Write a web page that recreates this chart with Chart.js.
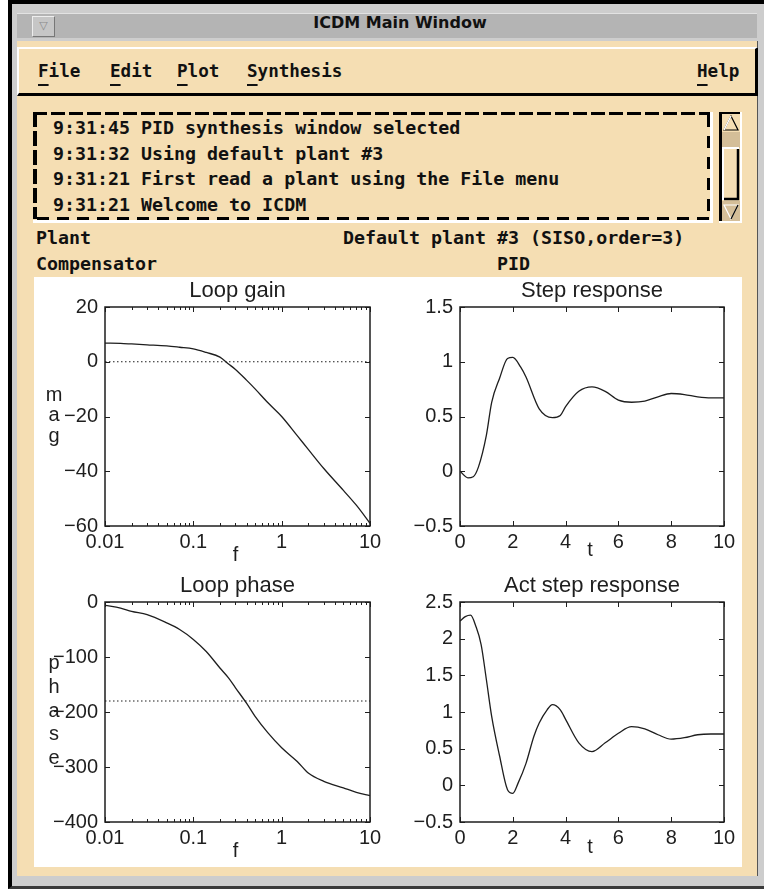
<!DOCTYPE html>
<html>
<head>
<meta charset="utf-8">
<title>ICDM Main Window</title>
<script src="https://cdn.jsdelivr.net/npm/chart.js@4.4.1/dist/chart.umd.min.js"></script>
<style>
  body { margin: 0; width: 764px; height: 889px; background: #fff; position: relative; overflow: hidden; }
  .abs { position: absolute; box-sizing: border-box; }
  #frame { left: 8px; top: 0; width: 756px; height: 889px; background: #cdcdcd; border-top: 4px solid #000; border-left: 4px solid #000; border-bottom: 3px solid #3a3a3a; }
  #titlebar { left: 17px; top: 13px; width: 740px; height: 25px; background: #b4b4b4; border-top: 1px solid #e2e2e2; }
  #titlebtn { left: 32px; top: 16px; width: 23px; height: 21px; background: #c6c6c6; border: 1px solid; border-color: #eee #777 #777 #eee; color: #8a8a8a; font: 11px "DejaVu Sans", sans-serif; text-align: center; line-height: 18px; }
  #titletext { left: 250px; top: 13px; width: 300px; height: 25px; line-height: 25px; text-align: center; font: bold 16px "DejaVu Sans", sans-serif; color: #111; }
  #content { left: 17px; top: 41px; width: 741px; height: 835px; background: #f5deb3; border-right: 1px solid #555; }
  #menubar { left: 17px; top: 47px; width: 741px; height: 49px; background: #f5deb3; border-top: 2px solid #fff; border-left: 2px solid #fff; border-bottom: 3px solid #000; border-right: 3px solid #000; }
  .mono { font-family: "DejaVu Sans Mono", monospace; font-weight: bold; font-size: 18.3px; color: #111; white-space: pre; }
  .menu { top: 60px; line-height: 22px; font-size: 17.6px; }
  .u { text-decoration: underline; text-decoration-thickness: 2px; text-underline-offset: 7px; }
  #msgbox { left: 33px; top: 112px; width: 681px; height: 111px; }
  .dash { position: absolute; }
  #messages { left: 53px; top: 115px; line-height: 25.7px; }
  .label { line-height: 22px; }
  #panel { left: 34px; top: 277px; width: 708px; height: 590px; background: #fff; }
  canvas { position: absolute; }
</style>
</head>
<body>
<div id="frame" class="abs"></div>
<div id="titlebar" class="abs"></div>
<div id="titlebtn" class="abs">&#9661;</div>
<div id="titletext" class="abs">ICDM Main Window</div>
<div id="content" class="abs"></div>
<div id="menubar" class="abs"></div>
<div class="abs mono menu" style="left:38px"><span class="u">F</span>ile</div>
<div class="abs mono menu" style="left:110px"><span class="u">E</span>dit</div>
<div class="abs mono menu" style="left:177px"><span class="u">P</span>lot</div>
<div class="abs mono menu" style="left:247px"><span class="u">S</span>ynthesis</div>
<div class="abs mono menu" style="left:697px"><span class="u">H</span>elp</div>

<div id="msgbox" class="abs">
  <div class="dash" style="left:0;top:0;width:677px;height:3px;background:repeating-linear-gradient(90deg,#000 0 14px,transparent 14px 18px)"></div>
  <div class="dash" style="left:0;top:0;width:4px;height:107px;background:repeating-linear-gradient(180deg,#000 0 15px,transparent 15px 19px)"></div>
  <div class="dash" style="left:4px;top:105px;width:673px;height:3px;background:repeating-linear-gradient(90deg,#000 0 12px,transparent 12px 20px)"></div>
  <div class="dash" style="left:674px;top:3px;width:3px;height:102px;background:repeating-linear-gradient(180deg,#000 0 12px,transparent 12px 21px)"></div>
  <div class="dash" style="left:677px;top:0;width:3px;height:111px;background:#fff"></div>
  <div class="dash" style="left:0;top:108px;width:680px;height:3px;background:#fff"></div>
</div>
<div id="messages" class="abs mono">9:31:45 PID synthesis window selected
9:31:32 Using default plant #3
9:31:21 First read a plant using the File menu
9:31:21 Welcome to ICDM</div>

<svg class="abs" style="left:719px;top:112px" width="23" height="111">
  <rect x="0" y="0" width="23" height="111" fill="#f5deb3"/>
  <rect x="3" y="20" width="18" height="16" fill="#d4be98"/>
  <rect x="3" y="89" width="18" height="20" fill="#d4be98"/>
  <polygon points="12,4 5,18 19,18" fill="#f5deb3" stroke="#000" stroke-width="1.2"/>
  <polyline points="5,18 12,4" fill="none" stroke="#fff" stroke-width="1.5"/>
  <rect x="4" y="36" width="16" height="52" fill="#f5deb3"/>
  <polyline points="4,88 4,36 20,36" fill="none" stroke="#fff" stroke-width="2"/>
  <polyline points="19,37 19,87 5,87" fill="none" stroke="#000" stroke-width="2.5"/>
  <polygon points="5,93 19,93 12,107" fill="#d4be98" stroke="#fff" stroke-width="1.2"/>
  <polyline points="19,93 12,107" fill="none" stroke="#000" stroke-width="1.2"/>
  <rect x="0" y="0" width="3" height="111" fill="#000"/>
  <rect x="0" y="0" width="23" height="2" fill="#000"/>
  <rect x="21" y="0" width="2" height="111" fill="#fff"/>
  <rect x="0" y="109" width="23" height="2" fill="#fff"/>
</svg>

<div class="abs mono label" style="left:36px;top:227px">Plant</div>
<div class="abs mono label" style="left:343px;top:227px">Default plant #3 (SISO,order=3)</div>
<div class="abs mono label" style="left:36px;top:253px">Compensator</div>
<div class="abs mono label" style="left:497px;top:253px">PID</div>

<div id="panel" class="abs"></div>
<canvas id="gainChart" width="354" height="295" style="left:34px;top:277px"></canvas>
<canvas id="stepChart" width="354" height="295" style="left:388px;top:277px"></canvas>
<canvas id="phaseChart" width="354" height="295" style="left:34px;top:572px"></canvas>
<canvas id="actChart" width="354" height="295" style="left:388px;top:572px"></canvas>

<script>
const FREQ = [0.01, 0.015, 0.02, 0.03, 0.05, 0.07, 0.1, 0.14, 0.2, 0.25, 0.3, 0.4, 0.5, 0.7, 1, 1.5, 2, 3, 5, 7, 10];
const LOOP_GAIN = [6.8, 6.7, 6.5, 6.2, 5.8, 5.3, 4.7, 3.4, 1.7, -0.8, -2.8, -6.7, -9.9, -15, -20, -27, -32, -39, -47, -52.4, -59];
const LOOP_PHASE = [-6, -11, -17, -23, -38, -50, -68, -90, -120, -138, -156, -184, -208, -238, -265, -290, -311, -326, -338, -346, -352];

const STEP_TIME = [0, 0.3, 0.5, 0.7, 1, 1.2, 1.5, 1.8, 2, 2.3, 2.5, 3, 3.5, 3.8, 4, 4.5, 5, 5.5, 6, 6.5, 7, 7.5, 8, 8.5, 9, 9.5, 10];
const STEP_RESPONSE = [0, -0.06, -0.05, 0.04, 0.33, 0.63, 0.85, 1.03, 1.04, 0.95, 0.86, 0.57, 0.49, 0.51, 0.59, 0.73, 0.77, 0.73, 0.65, 0.63, 0.64, 0.68, 0.71, 0.7, 0.68, 0.67, 0.67];

const ACT_TIME = [0, 0.2, 0.4, 0.6, 0.8, 1, 1.2, 1.5, 1.8, 2, 2.2, 2.5, 2.8, 3, 3.3, 3.5, 3.8, 4, 4.5, 5, 5.5, 6, 6.5, 7, 7.5, 8, 8.5, 9, 9.5, 10];
const ACT_RESPONSE = [2.24, 2.3, 2.32, 2.17, 1.92, 1.44, 0.94, 0.4, -0.06, -0.11, 0.03, 0.3, 0.67, 0.85, 1.03, 1.1, 1.03, 0.9, 0.58, 0.46, 0.58, 0.71, 0.8, 0.77, 0.69, 0.63, 0.65, 0.69, 0.7, 0.7];

const FREQ_TICKS = [0.01, 0.1, 1, 10];
const TIME_TICKS = [0, 2, 4, 6, 8, 10];
const GAIN_TICKS = [-60, -40, -20, 0, 20];
const PHASE_TICKS = [-400, -300, -200, -100, 0];
const STEP_TICKS = [-0.5, 0, 0.5, 1, 1.5];
const ACT_TICKS = [-0.5, 0, 0.5, 1, 1.5, 2, 2.5];

const GAIN_REFERENCE = 0;
const PHASE_REFERENCE = -180;

const FONT = "'Liberation Sans', Arial, sans-serif";
const INK = "#1e1e1e";

function toPoints(xs, ys) {
  return xs.map((x, i) => ({ x: x, y: ys[i] }));
}

function formatTick(value) {
  return String(Math.round(value * 100) / 100).replace("-", "\u2212");
}

function minorLogTicks(ticks) {
  const minor = [];
  for (let i = 0; i < ticks.length - 1; i++) {
    for (let k = 2; k <= 9; k++) {
      minor.push(ticks[i] * k);
    }
  }
  return minor;
}

// box with inward ticks on all four sides, plus the axis letters
const matlabAxes = {
  id: "matlabAxes",
  afterDraw(chart, args, opts) {
    const ctx = chart.ctx;
    const area = chart.chartArea;
    const xScale = chart.scales.x;
    const yScale = chart.scales.y;

    ctx.save();
    ctx.strokeStyle = INK;
    ctx.lineWidth = 1;
    ctx.beginPath();
    xScale.ticks.forEach((t) => {
      const px = Math.round(xScale.getPixelForValue(t.value)) + 0.5;
      ctx.moveTo(px, area.bottom);
      ctx.lineTo(px, area.bottom - 5);
      ctx.moveTo(px, area.top);
      ctx.lineTo(px, area.top + 5);
    });
    (opts.xMinor || []).forEach((v) => {
      const px = Math.round(xScale.getPixelForValue(v)) + 0.5;
      ctx.moveTo(px, area.bottom);
      ctx.lineTo(px, area.bottom - 3);
      ctx.moveTo(px, area.top);
      ctx.lineTo(px, area.top + 3);
    });
    yScale.ticks.forEach((t) => {
      const py = Math.round(yScale.getPixelForValue(t.value)) + 0.5;
      ctx.moveTo(area.left, py);
      ctx.lineTo(area.left + 5, py);
      ctx.moveTo(area.right, py);
      ctx.lineTo(area.right - 5, py);
    });
    ctx.stroke();

    ctx.lineWidth = 1.5;
    ctx.strokeRect(area.left, area.top, area.right - area.left, area.bottom - area.top);

    ctx.fillStyle = INK;
    ctx.font = "20px " + FONT;
    ctx.textAlign = "center";
    ctx.textBaseline = "alphabetic";
    ctx.fillText(opts.xLabel, (area.left + area.right) / 2 - 2, area.bottom + opts.xLabelOffset);

    ctx.textBaseline = "middle";
    const letters = opts.yLabel.split("");
    const middle = yScale.getPixelForValue(opts.yLabelAt) - 1;
    letters.forEach((ch, i) => {
      const y = middle + (i - (letters.length - 1) / 2) * opts.yLabelStep;
      ctx.fillText(ch, 20, y);
    });
    ctx.restore();
  },
};

function displayPlot(chartId, plot) {
  const datasets = [
    {
      data: toPoints(plot.x, plot.y),
      borderColor: INK,
      borderWidth: 1.3,
      pointRadius: 0,
      cubicInterpolationMode: "monotone",
    },
  ];

  if (plot.reference !== undefined) {
    datasets.push({
      data: [
        { x: plot.xTicks[0], y: plot.reference },
        { x: plot.xTicks[plot.xTicks.length - 1], y: plot.reference },
      ],
      borderColor: INK,
      borderWidth: 1.2,
      borderDash: [1.5, 2.5],
      pointRadius: 0,
    });
  }

  const tickFont = { family: FONT, size: 20 };

  var ctx = document.getElementById(chartId).getContext("2d");
  return new Chart(ctx, {
    type: "line",
    data: { datasets: datasets },
    plugins: [matlabAxes],
    options: {
      responsive: false,
      animation: false,
      devicePixelRatio: 1,
      layout: { padding: { left: 0, right: 18, top: 0, bottom: 0 } },
      plugins: {
        legend: { display: false },
        tooltip: { enabled: false },
        title: {
          display: true,
          fullSize: false,
          text: plot.title,
          color: INK,
          font: { family: FONT, size: 22, weight: "normal", lineHeight: 1.2 },
          padding: { top: 1, bottom: 2.6 },
        },
        matlabAxes: {
          xLabel: plot.xLabel,
          xLabelOffset: plot.xLabelOffset,
          xMinor: plot.xType === "logarithmic" ? minorLogTicks(plot.xTicks) : [],
          yLabel: plot.yLabel || "",
          yLabelAt: plot.yLabelAt || 0,
          yLabelStep: plot.yLabelStep || 20,
        },
      },
      scales: {
        x: {
          type: plot.xType,
          position: "bottom",
          min: plot.xTicks[0],
          max: plot.xTicks[plot.xTicks.length - 1],
          grid: { display: false, drawTicks: false },
          border: { display: false },
          ticks: {
            font: tickFont,
            color: INK,
            padding: 4,
            autoSkip: false,
            maxRotation: 0,
            callback: (value) => formatTick(value),
          },
          afterBuildTicks: (scale) => {
            scale.ticks = plot.xTicks.map((v) => ({ value: v }));
          },
          afterFit: (scale) => {
            scale.height = plot.xAxisHeight;
          },
        },
        y: {
          type: "linear",
          min: plot.yTicks[0],
          max: plot.yTicks[plot.yTicks.length - 1],
          grid: { display: false, drawTicks: false },
          border: { display: false },
          ticks: {
            font: tickFont,
            color: INK,
            padding: 7,
            autoSkip: false,
            callback: (value) => formatTick(value),
          },
          afterBuildTicks: (scale) => {
            scale.ticks = plot.yTicks.map((v) => ({ value: v }));
          },
          afterFit: (scale) => {
            scale.width = plot.yAxisWidth;
          },
        },
      },
    },
  });
}

displayPlot("gainChart", {
  title: "Loop gain",
  xType: "logarithmic",
  x: FREQ,
  y: LOOP_GAIN,
  xTicks: FREQ_TICKS,
  yTicks: GAIN_TICKS,
  reference: GAIN_REFERENCE,
  xLabel: "f",
  xLabelOffset: 35,
  yLabel: "mag",
  yLabelAt: -20,
  yLabelStep: 20.5,
  xAxisHeight: 46,
  yAxisWidth: 71,
});

displayPlot("stepChart", {
  title: "Step response",
  xType: "linear",
  x: STEP_TIME,
  y: STEP_RESPONSE,
  xTicks: TIME_TICKS,
  yTicks: STEP_TICKS,
  xLabel: "t",
  xLabelOffset: 30,
  xAxisHeight: 46,
  yAxisWidth: 72,
});

displayPlot("phaseChart", {
  title: "Loop phase",
  xType: "logarithmic",
  x: FREQ,
  y: LOOP_PHASE,
  xTicks: FREQ_TICKS,
  yTicks: PHASE_TICKS,
  reference: PHASE_REFERENCE,
  xLabel: "f",
  xLabelOffset: 35,
  yLabel: "phase",
  yLabelAt: -200,
  yLabelStep: 23.75,
  xAxisHeight: 45,
  yAxisWidth: 71,
});

displayPlot("actChart", {
  title: "Act step response",
  xType: "linear",
  x: ACT_TIME,
  y: ACT_RESPONSE,
  xTicks: TIME_TICKS,
  yTicks: ACT_TICKS,
  xLabel: "t",
  xLabelOffset: 31,
  xAxisHeight: 45,
  yAxisWidth: 72,
});
</script>
</body>
</html>
